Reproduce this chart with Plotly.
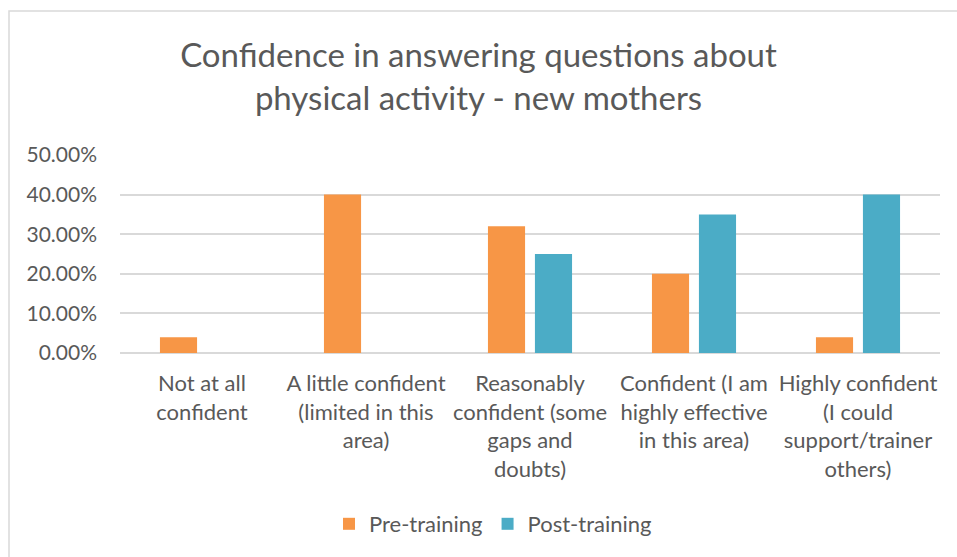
import plotly.graph_objects as go

categories = [
    "Not at all<br>confident",
    "A little confident<br>(limited in this<br>area)",
    "Reasonably<br>confident (some<br>gaps and<br>doubts)",
    "Confident (I am<br>highly effective<br>in this area)",
    "Highly confident<br>(I could<br>support/trainer<br>others)",
]
pre_training = [0.04, 0.40, 0.32, 0.20, 0.04]
post_training = [0.0, 0.0, 0.25, 0.35, 0.40]
y_ticks = [0, 0.1, 0.2, 0.3, 0.4, 0.5]

FONT = "Lato"
GRAY = "#595959"
GRID = "#D9D9D9"

fig = go.Figure()
fig.add_trace(go.Bar(name="Pre-training", x=categories, y=pre_training,
                     marker=dict(color="#F79646", line=dict(width=0))))
fig.add_trace(go.Bar(name="Post-training", x=categories, y=post_training,
                     marker=dict(color="#4BACC6", line=dict(width=0))))

W, H = 957, 557
L, R, T, B = 120, 17, 155, 204
pw = W - L - R
ph = H - T - B

def px_x(px):
    return (px - L) / pw

def px_y(py):
    return (H - B - py) / ph

fig.update_layout(
    width=W, height=H,
    margin=dict(l=L, r=R, t=T, b=B),
    paper_bgcolor="white", plot_bgcolor="white",
    font=dict(family=FONT, color=GRAY, size=20),
    barmode="group", bargap=0.427, bargroupgap=0.21,
    title=dict(text="Confidence in answering questions about<br>physical activity - new mothers",
               x=0.5, xanchor="center", xref="container",
               y=1 - 67 / H, yanchor="middle", yref="container",
               font=dict(family=FONT, size=33, color=GRAY)),
    legend=dict(orientation="h", x=px_x(493), xanchor="center",
                y=px_y(524), yanchor="middle",
                font=dict(family=FONT, size=22, color=GRAY),
                itemwidth=30, tracegroupgap=0),
    xaxis=dict(showgrid=False, showline=False, ticks="", ticklabelstandoff=15,
               tickfont=dict(family=FONT, size=22, color=GRAY)),
    yaxis=dict(range=[0, 0.5], tickvals=y_ticks, tickformat=".2%",
               showgrid=True, gridcolor=GRID, gridwidth=1.5,
               zeroline=True, zerolinecolor=GRID, zerolinewidth=1.5,
               showline=False, ticks="", ticklabelstandoff=22,
               tickfont=dict(family=FONT, size=21, color=GRAY)),
    showlegend=True,
)

fig.add_shape(type="rect", xref="paper", yref="paper",
              x0=px_x(9), x1=px_x(W + 20), y0=px_y(11), y1=px_y(H + 20),
              line=dict(color=GRID, width=1.5), fillcolor="rgba(0,0,0,0)",
              layer="below")

fig.write_html("out.html", config={"displayModeBar": False},
               post_script="document.body.style.margin='0';")
